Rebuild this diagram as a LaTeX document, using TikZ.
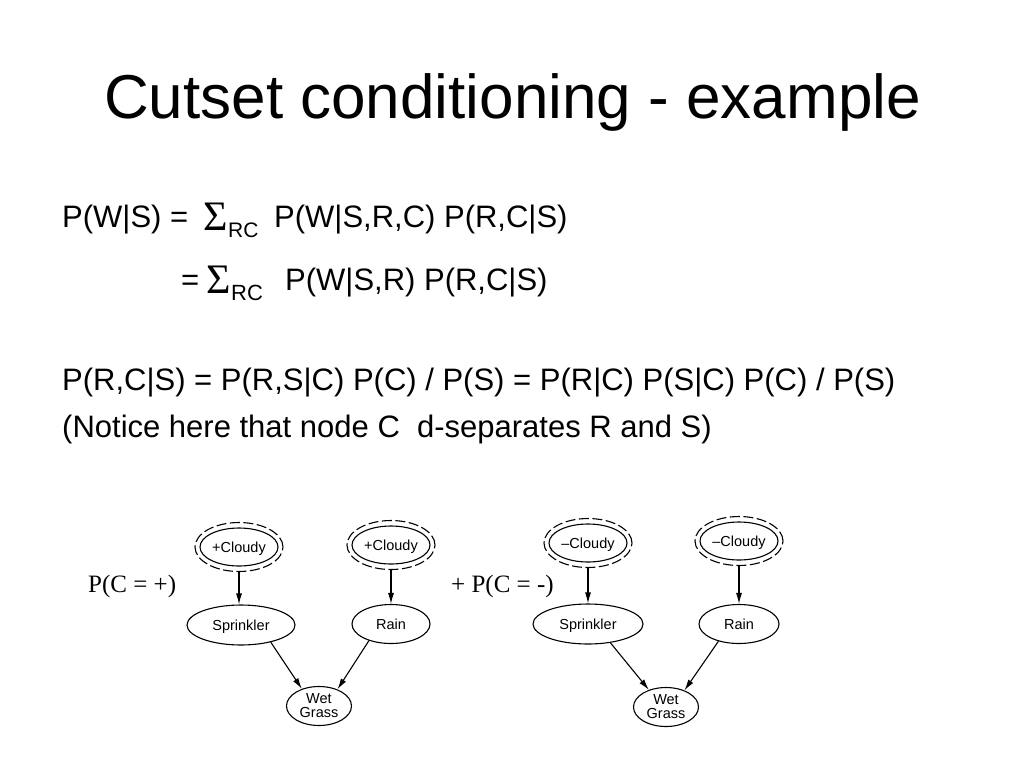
\documentclass[tikz,border=0pt]{standalone}
\usepackage{fontspec}
\setmainfont{Liberation Sans}
\newfontfamily\seriffont{Liberation Serif}
\usetikzlibrary{shapes.geometric,arrows.meta}
\begin{document}
\begin{tikzpicture}[x=1pt,y=1pt,
  body/.style={anchor=base west,inner sep=0pt,font=\fontsize{31}{31}\selectfont},
  sig/.style={anchor=base west,inner sep=0pt,font=\seriffont\fontsize{42}{42}\selectfont},
  sub/.style={anchor=base west,inner sep=0pt},
  lab/.style={anchor=base west,inner sep=0pt,font=\seriffont\fontsize{25}{25}\selectfont},
  bn/.style={ellipse,draw,line width=1.1pt,inner sep=0pt,font=\fontsize{14.5}{14}\selectfont},
  one/.style={text height=10.5pt,text depth=0.5pt},
  cin/.style={ellipse,draw,line width=1.1pt,inner sep=0pt,minimum width=78pt,minimum height=38pt,font=\fontsize{14.5}{14}\selectfont,text height=10.5pt,text depth=0.5pt},
  cout/.style={ellipse,draw,line width=1.1pt,dash pattern=on 10pt off 3.5pt,inner sep=0pt,minimum width=88pt,minimum height=49pt},
  arr/.style={line width=1.1pt,-{Latex[length=11pt,width=6pt]}}
]
\useasboundingbox[fill=white] (0,-768) rectangle (1024,0);
% title
\node[anchor=base,inner sep=0pt,font=\fontsize{62}{62}\selectfont] (title) at (512.5,-118) {Cutset conditioning - example};
% line 1
\node[body] (l1a) at (62,-227) {P(W|S) =};
\node[sig] (l1s) at (203,-230) {Σ};
\node[sub,font=\fontsize{21}{21}\selectfont] (l1r) at (228,-237) {RC};
\node[body] (l1b) at (274,-227) {P(W|S,R,C) P(R,C|S)};
% line 2
\node[body] (l2a) at (181,-290) {=};
\node[sig] (l2s) at (206,-293) {Σ};
\node[sub,font=\fontsize{22}{22}\selectfont] (l2r) at (231,-300) {RC};
\node[body] (l2b) at (285,-290) {P(W|S,R) P(R,C|S)};
% line 3, 4
\node[body] (l3) at (62,-390) {P(R,C|S) = P(R,S|C) P(C) / P(S) = P(R|C) P(S|C) P(C) / P(S)};
\node[body] (l4) at (62,-437) {(Notice here that node C\ \ d-separates R and S)};
% labels
\node[lab] (pc1) at (88,-592) {P(C = +)};
\node[lab] (pc2) at (451,-592) {+ P(C = -)};
% graph 1
\node[cout] (C1) at (239,-547) {};
\node[cin] (C1i) at (239,-547) {+Cloudy};
\node[cout] (C2) at (391,-545) {};
\node[cin] (C2i) at (391,-545) {+Cloudy};
\node[bn,one,minimum width=108pt,minimum height=40pt] (S1) at (241,-625) {Sprinkler};
\node[bn,one,minimum width=78pt,minimum height=39pt] (R1) at (391,-624) {Rain};
\node[bn,align=center,minimum width=65pt,minimum height=39pt] (W1) at (319,-706) {Wet\\Grass};
\draw[arr] (C1.south) -- (C1.south |- S1.north);
\draw[arr] (C2.south) -- (R1.north);
\draw[arr] (S1.-30) -- (W1.135);
\draw[arr] (R1.217) -- (W1.42);
% graph 2
\node[cout] (C3) at (588,-543) {};
\node[cin] (C3i) at (588,-543) {--Cloudy};
\node[cout] (C4) at (739,-541) {};
\node[cin] (C4i) at (739,-541) {--Cloudy};
\node[bn,one,minimum width=110pt,minimum height=40pt] (S2) at (588,-624) {Sprinkler};
\node[bn,one,minimum width=80pt,minimum height=39pt] (R2) at (739,-624) {Rain};
\node[bn,align=center,minimum width=65pt,minimum height=39pt] (W2) at (666,-707) {Wet\\Grass};
\draw[arr] (C3.south) -- (S2.north);
\draw[arr] (C4.south) -- (R2.north);
\draw[arr] (S2.-40) -- (W2.135);
\draw[arr] (R2.220) -- (W2.42);
\end{tikzpicture}
\end{document}
